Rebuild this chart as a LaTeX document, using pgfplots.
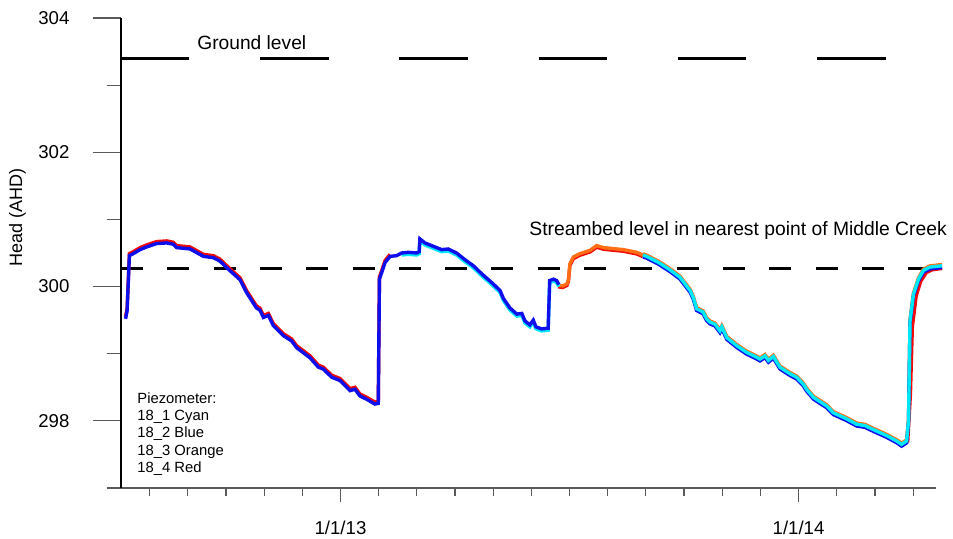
\documentclass[border=0pt]{standalone}
\usepackage{fontspec}
\setmainfont{Liberation Sans}
\usepackage{pgfplots}
\pgfplotsset{compat=1.18}
\usepackage{pgfplotstable}

\definecolor{cblue}{RGB}{15,15,235}
\definecolor{ccyan}{RGB}{0,232,245}
\definecolor{corange}{RGB}{255,110,20}
\definecolor{cred}{RGB}{240,10,10}
\definecolor{tickgray}{RGB}{90,90,90}

% x = months since 1/1/13, y = head (m AHD)
\pgfplotstableread{
x y
-5.63 299.52
-5.59 299.64
-5.53 300.46
-5.43 300.49
-5.25 300.55
-5.08 300.59
-4.82 300.64
-4.55 300.65
-4.38 300.63
-4.29 300.58
-3.94 300.56
-3.59 300.45
-3.33 300.43
-3.16 300.38
-2.94 300.26
-2.63 300.10
-2.46 299.91
-2.20 299.68
-2.11 299.65
-2.02 299.54
-1.89 299.57
-1.76 299.42
-1.50 299.27
-1.28 299.19
-1.15 299.09
-0.80 298.94
-0.58 298.80
-0.45 298.77
-0.23 298.65
-0.01 298.60
0.25 298.45
0.38 298.47
0.51 298.37
0.69 298.32
0.90 298.25
0.99 298.26
1.02 300.11
1.17 300.36
1.30 300.45
1.47 300.46
1.60 300.50
1.78 300.51
2.00 300.50
2.06 300.52
2.08 300.71
2.21 300.65
2.43 300.60
2.65 300.55
2.82 300.56
3.04 300.50
3.26 300.40
3.48 300.31
3.70 300.19
4.00 300.04
4.18 299.94
4.27 299.82
4.44 299.68
4.62 299.59
4.75 299.60
4.83 299.49
4.96 299.43
5.05 299.50
5.12 299.40
5.27 299.37
5.44 299.38
5.48 300.09
5.58 300.11
5.66 300.09
5.72 300.03
}\blueA

\pgfplotstableread{
x y
5.70 300.02
5.82 300.01
5.93 300.04
5.97 300.10
6.01 300.34
6.10 300.44
6.27 300.49
6.54 300.54
6.71 300.61
6.89 300.58
7.41 300.55
7.76 300.51
7.92 300.47
8.02 300.45
8.19 300.40
8.33 300.36
8.63 300.25
8.89 300.14
9.16 299.94
9.24 299.84
9.33 299.67
9.50 299.62
9.59 299.52
9.68 299.47
9.81 299.44
9.94 299.34
9.99 299.40
10.12 299.24
10.38 299.12
10.64 299.02
10.86 298.96
10.99 298.92
11.12 298.97
11.21 298.90
11.34 298.96
11.51 298.80
11.78 298.70
11.95 298.65
12.12 298.55
12.21 298.47
12.39 298.35
12.74 298.22
12.91 298.12
13.26 298.03
13.52 297.95
13.74 297.93
13.96 297.87
14.31 297.78
14.57 297.70
14.70 297.65
14.83 297.70
14.88 298.00
14.92 299.49
15.01 299.89
15.14 300.11
15.27 300.24
15.44 300.29
15.76 300.31
}\orangeA

\pgfplotstableread{
x y
14.70 297.66
14.86 297.70
14.93 298.40
14.98 299.40
15.08 299.86
15.20 300.08
15.35 300.21
15.50 300.25
15.76 300.27
}\redEnd

\begin{document}
\begin{tikzpicture}
\begin{axis}[
  name=ax,
  scale only axis,
  width=407.5pt, height=235pt,
  xmin=-5.75, xmax=15.60,
  ymin=297, ymax=304,
  axis lines*=left,
  axis line style={-, line width=0.6pt},
  x axis line style={tickgray},
  y axis line style={black},
  tick align=outside,
  xtick={0,12}, xticklabels={1/1/13,1/1/14},
  minor xtick={-5,-4,-3,-2,-1,1,2,3,4,5,6,7,8,9,10,11,13,14,15},
  ytick={298,300,302,304}, yticklabels={298,300,302,304},
  minor ytick={297,299,301,303},
  tick style={tickgray, line width=0.6pt},
  xtick style={/pgfplots/major tick length=7pt, /pgfplots/minor tick length=4pt},
  ytick style={/pgfplots/major tick length=14pt, /pgfplots/minor tick length=7pt},
  ticklabel style={font=\fontsize{9.3}{11}\selectfont, black},
  yticklabel style={xshift=-18pt},
  xticklabel style={yshift=-8.5pt},
  clip=false,
]
% reference levels
\addplot[black, line width=1.3pt, dash pattern=on 34.25pt off 35.35pt] coordinates {(-5.75,303.4) (15.60,303.4)};
\addplot[black, line width=1.35pt, dash pattern=on 11pt off 12.15pt] coordinates {(-5.75,300.27) (15.60,300.27)};

% 18_4 red
\addplot[cred, line width=1.7pt, yshift=1pt, restrict x to domain=-6:1.35] table {\blueA};
\addplot[cred, line width=1.7pt, yshift=-0.8pt, restrict x to domain=5.6:7.95] table {\orangeA};
\addplot[cred, line width=1.7pt] table {\redEnd};
% 18_3 orange
\addplot[corange, line width=1.7pt, restrict x to domain=5.6:7.95] table {\orangeA};
\addplot[corange, line width=1.7pt, yshift=0.6pt, restrict x to domain=7.9:16] table {\orangeA};
% 18_1 cyan (period 2)
\addplot[ccyan, line width=1.7pt, yshift=-1pt, restrict x to domain=1.55:5.8] table {\blueA};
% 18_2 blue
\addplot[cblue, line width=1.7pt] table {\blueA};
\addplot[cblue, line width=1.7pt, yshift=-0.9pt, restrict x to domain=7.9:16] table {\orangeA};
% 18_1 cyan (period 3)
\addplot[ccyan, line width=1.7pt, restrict x to domain=7.9:16] table {\orangeA};

% annotations
\node[anchor=base west, inner sep=0pt, font=\fontsize{9.6}{11}\selectfont] at (axis cs:-3.76,303.537) {Ground level};
\node[anchor=base west, inner sep=0pt, font=\fontsize{9.65}{11}\selectfont] at (axis cs:4.94,300.761) {Streambed level in nearest point of Middle Creek};
\node[anchor=base west, inner sep=0pt, font=\fontsize{7.4}{9}\selectfont] at (axis cs:-5.33,298.264) {Piezometer:};
\node[anchor=base west, inner sep=0pt, font=\fontsize{7.4}{9}\selectfont] at (axis cs:-5.33,298.005) {18\_1 Cyan};
\node[anchor=base west, inner sep=0pt, font=\fontsize{7.4}{9}\selectfont] at (axis cs:-5.33,297.746) {18\_2 Blue};
\node[anchor=base west, inner sep=0pt, font=\fontsize{7.4}{9}\selectfont] at (axis cs:-5.33,297.488) {18\_3 Orange};
\node[anchor=base west, inner sep=0pt, font=\fontsize{7.4}{9}\selectfont] at (axis cs:-5.33,297.228) {18\_4 Red};
\node[rotate=90, inner sep=0pt, font=\fontsize{9}{11}\selectfont] at (axis cs:-8.46,301.03) {Head (AHD)};
\end{axis}
\pgfresetboundingbox
\path ([shift={(-60.5pt,-25.5pt)}]ax.south west) rectangle ([shift={(8.5pt,9pt)}]ax.north east);
\end{tikzpicture}
\end{document}
